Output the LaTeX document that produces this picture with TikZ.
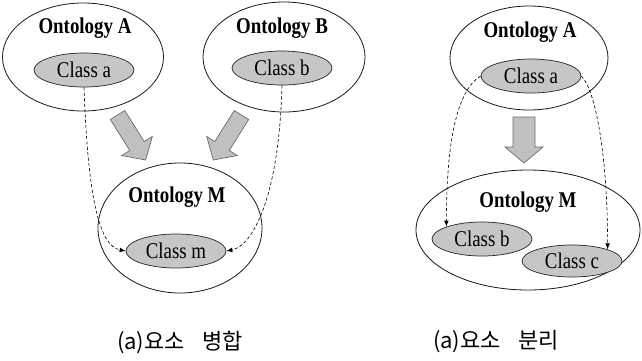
\documentclass[tikz,border=0pt]{standalone}
\usepackage{fontspec}
\setmainfont{Liberation Serif}
\newfontfamily\krfont{Noto Sans CJK KR}
\usetikzlibrary{shapes.geometric,arrows.meta}
\newcommand{\sqz}[1]{\scalebox{0.84}[1]{#1}}
\definecolor{clsgray}{HTML}{C6C6C6}
\definecolor{arrgray}{HTML}{C0C0C0}
\definecolor{arredge}{HTML}{6A6A6A}
\tikzset{
  onto/.style={ellipse, draw=black!90, line width=0.8pt, fill=white, inner sep=0pt},
  cls/.style={ellipse, draw=black!85, line width=0.7pt, fill=clsgray, inner sep=0pt,
              minimum width=100pt, minimum height=34pt, font=\fontsize{22.5}{22.5}\selectfont},
  ontolabel/.style={inner sep=0pt, font=\bfseries\fontsize{22.5}{22.5}\selectfont},
  blockarrow/.style={fill=arrgray, draw=arredge, line width=0.7pt, line join=miter},
  link/.style={dashed, dash pattern=on 3.2pt off 2.2pt, line width=0.6pt,
               -{Latex[length=6pt,width=4.5pt]}},
  caption/.style={inner sep=0pt, font=\krfont\fontsize{22}{22}\selectfont}
}
\begin{document}
\begin{tikzpicture}[x=1pt,y=-1pt]
\useasboundingbox (0,0) rectangle (642,360);

% ---------- left panel: merge ----------
\node[onto, minimum width=161pt, minimum height=108pt] (oa) at (83,57) {};
\node[onto, minimum width=162pt, minimum height=110pt] (ob) at (284,57) {};
\node[onto, minimum width=164pt, minimum height=130pt] (om) at (180,228) {};

\node[ontolabel] (oalabel) at (85,28) {\sqz{Ontology A}};
\node[ontolabel] (oblabel) at (282,28) {\sqz{Ontology B}};
\node[ontolabel] (omlabel) at (177,197) {\sqz{Ontology M}};

\node[cls] (ca) at (84,70) {\sqz{Class a}};
\node[cls] (cb) at (282,68) {\sqz{Class b}};
\node[cls] (cm) at (176,251) {\sqz{Class m}};

\draw[blockarrow] (110.3,119.5) -- (124.7,110.5) -- (144.2,141.5) -- (152.3,136.5)
  -- (145.7,160) -- (121.7,155.5) -- (129.8,150.5) -- cycle;
\draw[blockarrow] (248.7,119.5) -- (234.3,110.5) -- (214.8,141.5) -- (206.7,136.5)
  -- (213.3,160) -- (237.3,155.5) -- (229.2,150.5) -- cycle;

\draw[link] (ca.south) .. controls +(4,113) and +(-26,-5) .. (cm.west);
\draw[link] (cb.south) .. controls +(-3,113) and +(26,-5) .. (cm.east);

% ---------- right panel: split ----------
\node[onto, minimum width=158pt, minimum height=104pt] (oa2) at (529,58) {};
\node[onto, minimum width=224pt, minimum height=120pt] (om2) at (528,230) {};

\node[ontolabel] (oa2label) at (530,32) {\sqz{Ontology A}};
\node[ontolabel] (om2label) at (528,202) {\sqz{Ontology M}};

\node[cls] (ca2) at (531,76) {\sqz{Class a}};
\node[cls] (cb2) at (482,239) {\sqz{Class b}};
\node[cls, minimum height=32pt] (cc2) at (572,261) {\sqz{Class c}};

\draw[blockarrow] (513,117) -- (535,117) -- (535,147) -- (543,147) -- (524,163)
  -- (505,147) -- (513,147) -- cycle;

\draw[link] (ca2.west) .. controls +(-25,15) and +(0,-80) .. (cb2.north west);
\draw[link] (ca2.east) .. controls +(15,15) and +(0,-90) .. (cc2.north east);

% ---------- captions ----------
\node[caption] (cap1) at (180,342) {(a)요소\hspace{0.8em}병합};
\node[caption] (cap2) at (496,342) {(a)요소\hspace{0.8em}분리};
\end{tikzpicture}
\end{document}
